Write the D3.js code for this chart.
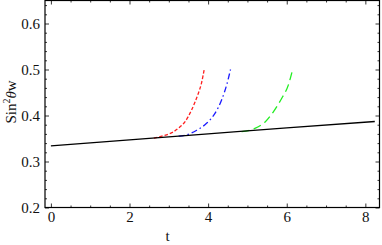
<!DOCTYPE html>
<html>
<head>
<meta charset="utf-8">
<script src="https://cdnjs.cloudflare.com/ajax/libs/d3/7.8.5/d3.min.js"></script>
<style>
  html, body { margin: 0; padding: 0; background: #fff; }
</style>
</head>
<body>
<svg id="chart" width="382" height="245"></svg>
<script>
// black reference line
var baseT = [0, 2, 4, 6, 8.24];
var baseY = [0.334, 0.347, 0.360, 0.373, 0.387];

// red, short dashes
var redT = [2.62, 2.90, 3.11, 3.28, 3.41, 3.49, 3.58, 3.67, 3.75, 3.83, 3.90];
var redY = [0.351, 0.357, 0.364, 0.375, 0.386, 0.397, 0.412, 0.430, 0.448, 0.470, 0.500];

// blue, dash-dot
var blueT = [3.25, 3.45, 3.71, 3.96, 4.17, 4.34, 4.47, 4.57];
var blueY = [0.355, 0.358, 0.368, 0.383, 0.404, 0.433, 0.466, 0.500];

// green, long dashes
var greenT = [4.85, 5.19, 5.45, 5.66, 5.87, 6.04, 6.15];
var greenY = [0.365, 0.372, 0.386, 0.408, 0.437, 0.466, 0.500];

var xTicks = [0, 2, 4, 6, 8];
var yTicks = [0.2, 0.3, 0.4, 0.5, 0.6];

var serif = "Liberation Serif";
var frame = { left: 45, right: 379.5, top: 0.5, bottom: 207.5 };

var svg = d3.select("#chart");

var x = d3.scaleLinear().domain([-0.15, 8.36]).range([frame.left, frame.right]);
var y = d3.scaleLinear().domain([0.2, 0.65]).range([frame.bottom, frame.top]);

var xMinor = d3.range(0, 8.36, 0.5).filter(function (v) { return xTicks.indexOf(v) < 0; });
var yMinor = d3.range(0.2, 0.65, 0.02).map(function (v) { return +v.toFixed(2); })
  .filter(function (v) { return yTicks.indexOf(v) < 0; });

var plotH = frame.bottom - frame.top;
var plotW = frame.right - frame.left;

// bottom axis (labels) and top mirror
function xAxisAt(ypos, labels, dir) {
  var g = svg.append("g").attr("transform", "translate(0," + ypos + ")");
  var major = d3.axisBottom(x).tickValues(xTicks).tickSize(-4 * dir).tickPadding(5)
    .tickFormat(labels ? d3.format("d") : "");
  g.call(major);
  var minor = d3.axisBottom(x).tickValues(xMinor).tickSize(-2 * dir).tickFormat("");
  g.append("g").call(minor);
  g.selectAll(".domain").remove();
  g.attr("font-family", serif).attr("font-size", 15);
  g.selectAll("line").attr("stroke", "#000").attr("stroke-width", 0.8);
  g.selectAll("text")
    .attr("font-family", serif).attr("font-size", 15).attr("fill", "#111")
    .attr("dy", "0.62em");
}
xAxisAt(frame.bottom, true, 1);
xAxisAt(frame.top, false, -1);

function yAxisAt(xpos, labels, dir) {
  var g = svg.append("g").attr("transform", "translate(" + xpos + ",0)");
  var major = d3.axisLeft(y).tickValues(yTicks).tickSize(-4 * dir).tickPadding(5)
    .tickFormat(labels ? d3.format(".1f") : "");
  g.call(major);
  var minor = d3.axisLeft(y).tickValues(yMinor).tickSize(-2 * dir).tickFormat("");
  g.append("g").call(minor);
  g.selectAll(".domain").remove();
  g.attr("font-family", serif).attr("font-size", 15);
  g.selectAll("line").attr("stroke", "#000").attr("stroke-width", 0.8);
  g.selectAll("text")
    .attr("font-family", serif).attr("font-size", 15).attr("fill", "#111")
    .attr("text-anchor", "end");
}
yAxisAt(frame.left, true, 1);
yAxisAt(frame.right, false, -1);

svg.append("rect")
  .attr("x", frame.left).attr("y", frame.top)
  .attr("width", plotW).attr("height", plotH)
  .attr("fill", "none").attr("stroke", "#000").attr("stroke-width", 1.2);

var line = d3.line()
  .x(function (d) { return x(d[0]); })
  .y(function (d) { return y(d[1]); })
  .curve(d3.curveMonotoneX);

function zip(ts, ys) { return ts.map(function (t, i) { return [t, ys[i]]; }); }

var series = [
  { pts: zip(redT, redY), color: "#ff2020", dash: "3.5,2" },
  { pts: zip(blueT, blueY), color: "#1a1aff", dash: "6,3,1.5,3" },
  { pts: zip(greenT, greenY), color: "#22ee22", dash: "8,4.5" }
];

series.forEach(function (s) {
  svg.append("path")
    .attr("d", line(s.pts))
    .attr("fill", "none")
    .attr("stroke", s.color)
    .attr("stroke-width", 1.3)
    .attr("stroke-dasharray", s.dash);
});

svg.append("path")
  .attr("d", line(zip(baseT, baseY)))
  .attr("fill", "none")
  .attr("stroke", "#000")
  .attr("stroke-width", 1.3);

// axis labels
svg.append("text")
  .attr("x", x(2.97)).attr("y", 241)
  .attr("text-anchor", "middle")
  .attr("font-family", serif).attr("font-size", 15).attr("fill", "#111")
  .text("t");

var yl = svg.append("text")
  .attr("transform", "translate(16,102) rotate(-90)")
  .attr("text-anchor", "middle")
  .attr("font-family", serif).attr("font-size", 15).attr("fill", "#111");
yl.append("tspan").text("Sin");
yl.append("tspan").attr("font-size", 10).attr("dy", -6).text("2");
yl.append("tspan").attr("font-style", "italic").attr("dy", 6).text("θ");
yl.append("tspan").text("w");
</script>
</body>
</html>
